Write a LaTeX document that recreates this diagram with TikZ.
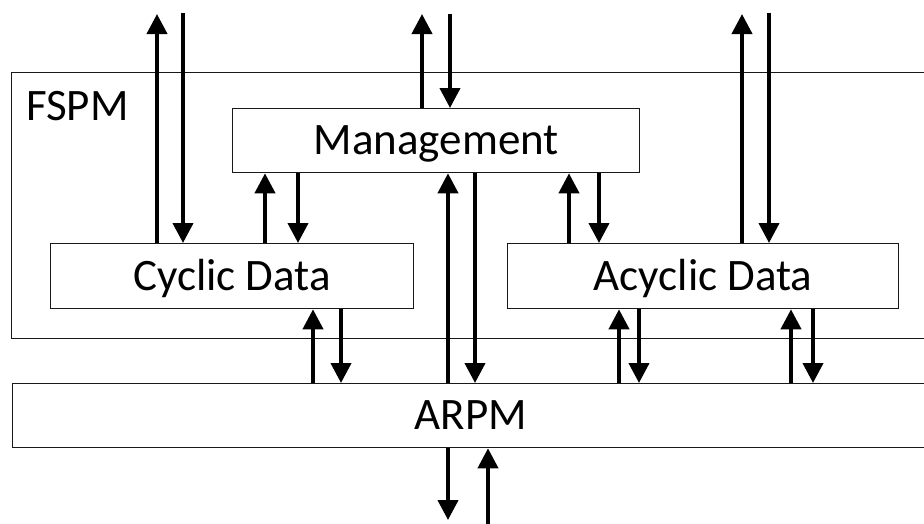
\documentclass[tikz,border=0pt]{standalone}
\usepackage{fontspec}
\setmainfont{Carlito}
\usetikzlibrary{arrows.meta}
\begin{document}
\begin{tikzpicture}[x=1pt,y=-1pt,
  box/.style={draw=black!90,line width=1.3pt,rectangle,inner sep=0pt,anchor=north west,
    font=\fontsize{45}{53}\selectfont,text height=28pt,text depth=0pt},
  flow/.style={line width=4pt,-{Triangle[width=20pt,length=20pt]}}]
\useasboundingbox (0,0) rectangle (924,523);
\clip (0,0) rectangle (924,523);
% outer boxes
\node[box,minimum width=930pt,minimum height=266pt] (fspm) at (11,72) {};
\node[anchor=base west,inner sep=0pt,font=\fontsize{45}{53}\selectfont] (fspmlbl) at (26,120) {FSPM};
\node[box,minimum width=916pt,minimum height=64pt] (arpm) at (12,383) {ARPM};
% inner boxes
\node[box,minimum width=407pt,minimum height=64pt] (mgmt) at (232,108) {Management};
\node[box,minimum width=363pt,minimum height=65pt] (cyc) at (50,243) {Cyclic Data};
\node[box,minimum width=391pt,minimum height=65pt] (acyc) at (507,243) {Acyclic Data};
% free ends
\coordinate (t1) at (157,14);
\coordinate (t2) at (183,13);
\coordinate (t3) at (422,14);
\coordinate (t4) at (450,14);
\coordinate (t5) at (742,14);
\coordinate (t6) at (769,13);
\coordinate (b1) at (448,520);
\coordinate (b2) at (488,526);
% column positions
\foreach \c in {265,298,569,599,448,475,313,341,619,639,791,813}
  \coordinate (x\c) at (\c,0);
% external arrows at top
\draw[flow] (cyc.north -| t1) -- (t1);
\draw[flow] (t2) -- (cyc.north -| t2);
\draw[flow] (mgmt.north -| t3) -- (t3);
\draw[flow] (t4) -- (mgmt.north -| t4);
\draw[flow] (acyc.north -| t5) -- (t5);
\draw[flow] (t6) -- (acyc.north -| t6);
% data <-> management
\draw[flow] (cyc.north -| x265) -- (mgmt.south -| x265);
\draw[flow] (mgmt.south -| x298) -- (cyc.north -| x298);
\draw[flow] (acyc.north -| x569) -- (mgmt.south -| x569);
\draw[flow] (mgmt.south -| x599) -- (acyc.north -| x599);
% management <-> ARPM
\draw[flow] (arpm.north -| x448) -- (mgmt.south -| x448);
\draw[flow] (mgmt.south -| x475) -- (arpm.north -| x475);
% data <-> ARPM
\draw[flow] (arpm.north -| x313) -- (cyc.south -| x313);
\draw[flow] (cyc.south -| x341) -- (arpm.north -| x341);
\draw[flow] (arpm.north -| x619) -- (acyc.south -| x619);
\draw[flow] (acyc.south -| x639) -- (arpm.north -| x639);
\draw[flow] (arpm.north -| x791) -- (acyc.south -| x791);
\draw[flow] (acyc.south -| x813) -- (arpm.north -| x813);
% bottom
\draw[flow] (arpm.south -| b1) -- (b1);
\draw[flow] (b2) -- (arpm.south -| b2);
\end{tikzpicture}
\end{document}
